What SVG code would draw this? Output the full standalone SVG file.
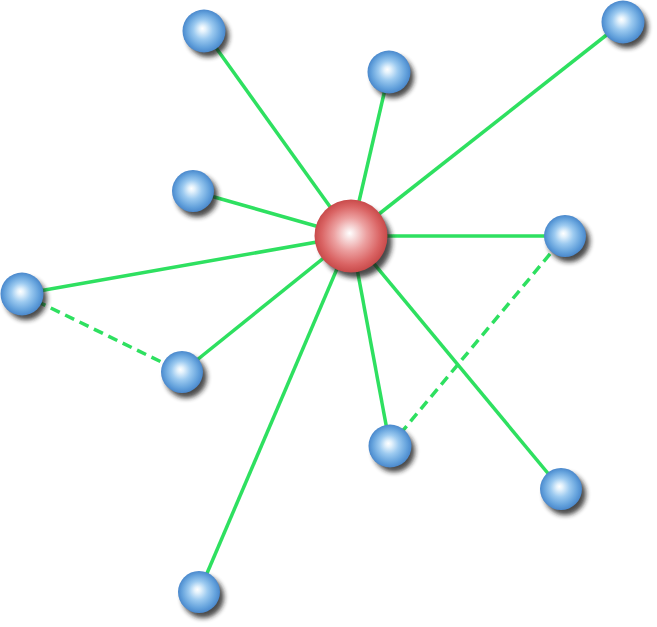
<svg xmlns="http://www.w3.org/2000/svg" width="657" height="627" viewBox="0 0 657 627">
<defs>
  <radialGradient id="gBlue" cx="50%" cy="50%" r="50%" fx="46%" fy="44%">
    <stop offset="0" stop-color="#ffffff"/>
    <stop offset="0.15" stop-color="#e4f2fc"/>
    <stop offset="0.45" stop-color="#9ccaf0"/>
    <stop offset="0.8" stop-color="#64a2dc"/>
    <stop offset="1" stop-color="#4a88cc"/>
  </radialGradient>
  <radialGradient id="gRed" cx="50%" cy="50%" r="50%" fx="48%" fy="46%">
    <stop offset="0" stop-color="#ffffff"/>
    <stop offset="0.15" stop-color="#f8e0e0"/>
    <stop offset="0.45" stop-color="#eca0a0"/>
    <stop offset="0.8" stop-color="#da6464"/>
    <stop offset="1" stop-color="#c84a4a"/>
  </radialGradient>
  <filter id="shadow" x="-50%" y="-50%" width="200%" height="200%">
    <feGaussianBlur stdDeviation="2.5"/>
  </filter>
</defs>
<style>
  .edge { stroke: #2ee060; stroke-width: 3.5; fill: none; }
  .dash { stroke-dasharray: 10 6; }
  .sh { fill: #1a1a1a; opacity: 0.8; filter: url(#shadow); }
  .blue { fill: url(#gBlue); }
  .red { fill: url(#gRed); }
</style>
<rect width="657" height="627" fill="#ffffff"/>
<g id="connectors">
  <line class="edge" x1="351" y1="236" x2="204" y2="31"/>
  <line class="edge" x1="351" y1="236" x2="389" y2="72"/>
  <line class="edge" x1="351" y1="236" x2="623" y2="22"/>
  <line class="edge" x1="351" y1="236" x2="193" y2="191"/>
  <line class="edge" x1="351" y1="236" x2="565" y2="236"/>
  <line class="edge" x1="351" y1="236" x2="22" y2="294"/>
  <line class="edge" x1="351" y1="236" x2="182" y2="372"/>
  <line class="edge" x1="351" y1="236" x2="390" y2="446"/>
  <line class="edge" x1="351" y1="236" x2="561" y2="489"/>
  <line class="edge" x1="351" y1="236" x2="199" y2="592"/>
  <line class="edge dash" x1="22" y1="294" x2="182" y2="372"/>
  <line class="edge dash" x1="390" y1="446" x2="565" y2="236"/>
</g>
<g id="center">
  <circle class="sh" cx="356" cy="242" r="36"/>
  <circle class="red" cx="351" cy="236" r="36.5"/>
</g>
<g id="n1"><circle class="sh" cx="208" cy="36" r="21"/><circle class="blue" cx="204" cy="31" r="21.5"/></g>
<g id="n2"><circle class="sh" cx="393" cy="77" r="21"/><circle class="blue" cx="389" cy="72" r="21.5"/></g>
<g id="n3"><circle class="sh" cx="627" cy="27" r="21"/><circle class="blue" cx="623" cy="22" r="21.5"/></g>
<g id="n4"><circle class="sh" cx="197" cy="196" r="21"/><circle class="blue" cx="193" cy="191" r="21"/></g>
<g id="n5"><circle class="sh" cx="569" cy="241" r="21"/><circle class="blue" cx="565" cy="236" r="21"/></g>
<g id="n6"><circle class="sh" cx="26" cy="299" r="21"/><circle class="blue" cx="22" cy="294" r="21.5"/></g>
<g id="n7"><circle class="sh" cx="186" cy="377" r="21"/><circle class="blue" cx="182" cy="372" r="21"/></g>
<g id="n8"><circle class="sh" cx="394" cy="451" r="21"/><circle class="blue" cx="390" cy="446" r="21.5"/></g>
<g id="n9"><circle class="sh" cx="565" cy="494" r="21"/><circle class="blue" cx="561" cy="489" r="21"/></g>
<g id="n10"><circle class="sh" cx="203" cy="597" r="21"/><circle class="blue" cx="199" cy="592" r="21"/></g>
</svg>
